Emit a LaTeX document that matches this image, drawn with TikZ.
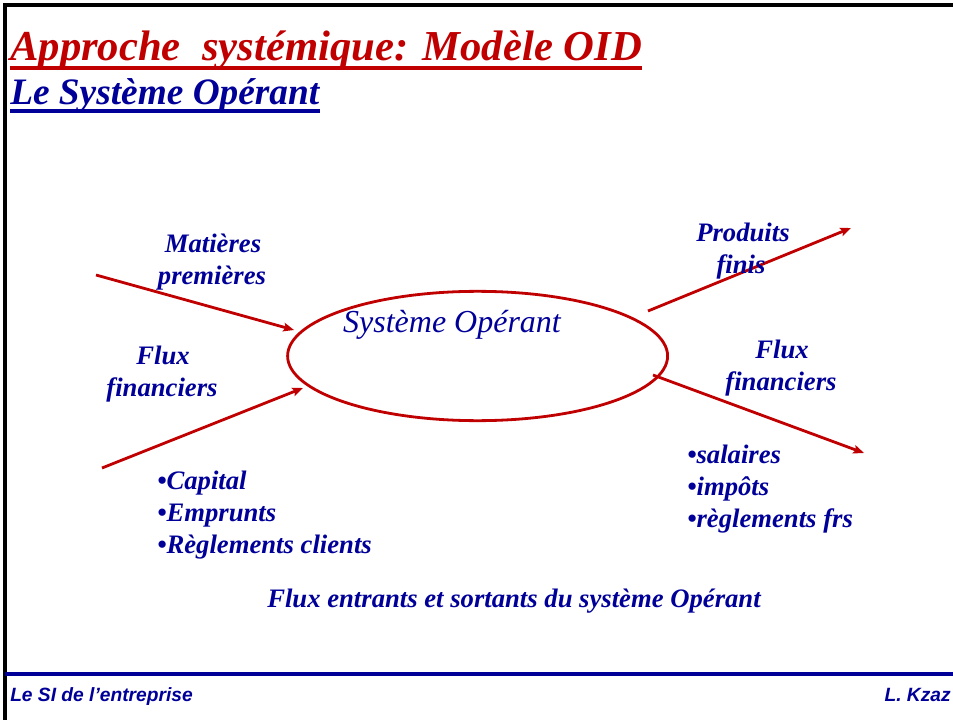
\documentclass[tikz,border=0pt]{standalone}
\usepackage{fontspec}
\setmainfont{Liberation Serif}
\newfontfamily\footfont{Liberation Sans}
\usetikzlibrary{arrows.meta,shapes.geometric}
\definecolor{oidred}{RGB}{192,0,0}
\definecolor{oidblue}{RGB}{0,0,153}
\tikzset{
  lbl/.style={text=oidblue, font=\fontsize{20}{24}\selectfont\bfseries\itshape, inner sep=0pt},
  flow/.style={draw=oidred, line width=2.1pt, -{Stealth[length=8pt,width=6.5pt,inset=1.5pt]}},
  ttl/.style={inner sep=0pt, anchor=base west},
  foot/.style={inner sep=0pt, anchor=base west, text=oidblue, font=\footfont\fontsize{14.4}{16}\selectfont\bfseries\itshape},
}
\begin{document}
\begin{tikzpicture}[x=0.75pt,y=-0.75pt]
\useasboundingbox (0,0) rectangle (953,720);
\fill[white] (0,0) rectangle (953,720);
% frame
\draw[black, line width=2.6pt] (5,720) -- (5,5) -- (953,5);
\draw[oidblue, line width=2.6pt] (5,674) -- (953,674);
% titles
\node[ttl, text=oidred, font=\fontsize{32}{36}\selectfont\bfseries\itshape] (t1) at (10,61) {Approche\ \ systémique: Modèle OID};
\draw[oidred, line width=3pt] ([yshift=-5.2pt]t1.base west) -- ([yshift=-5.2pt]t1.base east);
\node[ttl, text=oidblue, font=\fontsize{28}{32}\selectfont\bfseries\itshape] (t2) at (10,105) {Le Système Opérant};
\draw[oidblue, line width=3pt] ([yshift=-4.5pt]t2.base west) -- ([yshift=-4.5pt]t2.base east);
% ellipse
\node[ellipse, draw=oidred, line width=2.1pt, minimum width=285pt, minimum height=97pt, inner sep=0pt] (sys) at (477.6,356) {};
\node[inner sep=0pt, anchor=base, text=oidblue, font=\fontsize{24}{28}\selectfont\itshape] (sysl) at (452,333) {Système Opérant};
% arrows
\coordinate (a1s) at (96,275);
\coordinate (a1e) at (294,330);
\coordinate (a2s) at (102,468);
\coordinate (a2e) at (303,388);
\coordinate (a3s) at (648,311);
\coordinate (a3e) at (851,228);
\coordinate (a4s) at (653,375);
\coordinate (a4e) at (864,453);
\draw[flow] (a1s) -- (a1e);
\draw[flow] (a2s) -- (a2e);
\draw[flow] (a3s) -- (a3e);
\draw[flow] (a4s) -- (a4e);
% labels
\node[lbl, anchor=base] (m1) at (213,253) {Matières};
\node[lbl, anchor=base] (m2) at (212,285) {premières};
\node[lbl, anchor=base] (f1) at (163,364) {Flux};
\node[lbl, anchor=base] (f2) at (162,396) {financiers};
\node[lbl, anchor=base] (p1) at (743,242) {Produits};
\node[lbl, anchor=base] (p2) at (741,274) {finis};
\node[lbl, anchor=base] (g1) at (782,358) {Flux};
\node[lbl, anchor=base] (g2) at (781,390) {financiers};
\node[lbl, anchor=base west] (b1) at (157,489) {•Capital};
\node[lbl, anchor=base west] (b2) at (157,521) {•Emprunts};
\node[lbl, anchor=base west] (b3) at (157,553) {•Règlements clients};
\node[lbl, anchor=base west] (c1) at (687,463) {•salaires};
\node[lbl, anchor=base west] (c2) at (687,495) {•impôts};
\node[lbl, anchor=base west] (c3) at (687,527) {•règlements frs};
\node[lbl, anchor=base] (cap) at (514,607) {Flux entrants et sortants du système Opérant};
% footer
\node[foot] (fl) at (10,701) {Le SI de l’entreprise};
\node[foot, anchor=base east] (fr) at (951,701) {L. Kzaz};
\end{tikzpicture}
\end{document}
